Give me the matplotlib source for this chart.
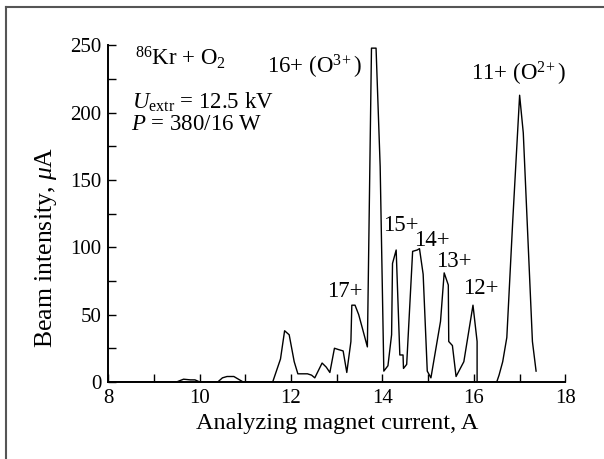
import matplotlib
matplotlib.use("Agg")
import matplotlib.pyplot as plt
from matplotlib.lines import Line2D
from matplotlib.ticker import MultipleLocator

plt.rcParams['font.family'] = ['Liberation Serif', 'DejaVu Serif']
plt.rcParams['mathtext.fontset'] = 'custom'
plt.rcParams['mathtext.rm'] = 'Liberation Serif'
plt.rcParams['mathtext.it'] = 'Liberation Serif:italic'

current = [8.0, 9.5, 9.65, 9.8, 9.9, 10.0, 10.4, 10.5, 10.6, 10.75, 10.85, 10.95,
           11.6, 11.77, 11.86, 11.96, 12.07, 12.15, 12.36, 12.45, 12.52,
           12.68, 12.77, 12.85, 12.95, 13.04, 13.14, 13.22, 13.31, 13.33,
           13.4, 13.48, 13.56, 13.67, 13.76, 13.86, 13.95, 14.03, 14.12,
           14.2, 14.22, 14.3, 14.38, 14.45, 14.46, 14.53, 14.66, 14.76,
           14.81, 14.89, 14.98, 15.06, 15.27, 15.35, 15.44, 15.45, 15.53,
           15.61, 15.78, 15.98, 16.07, 16.07, 16.5, 16.55, 16.63, 16.72,
           16.85, 17.0, 17.08, 17.28, 17.36]
intensity = [0, 0, 2, 1.5, 1.5, 0, 0, 3, 4, 4, 2, 0,
             0, 17, 38, 35, 15, 6, 6, 5, 3,
             14, 11, 7, 25, 24, 23, 7, 30, 57,
             57, 50, 40, 26, 248, 248, 160, 8, 12,
             35, 88, 98, 20, 20, 10, 13, 97, 98,
             99, 80, 8, 3, 45, 81, 72, 30, 27,
             4, 15, 57, 30, 0, 0, 5, 15, 33,
             120, 213, 185, 30, 8]

x_ticks = [8, 10, 12, 14, 16, 18]
y_ticks = [0, 50, 100, 150, 200, 250]

peak_labels = [
    (12.79, 63, "17+"),
    (14.02, 112, "15+"),
    (14.70, 101, "14+"),
    (15.18, 85, "13+"),
    (15.77, 65, "12+"),
    (11.48, 229, "16+ (O$^{3\\!+}$)"),
    (15.93, 224, "11+ (O$^{2\\!+}$)"),
]

fig = plt.figure(figsize=(6.04, 4.59), dpi=100)
ax = fig.add_axes([0.179, 0.168, 0.757, 0.733])

ax.plot(current, intensity, color='black', lw=1.0)

ax.set_xlim(8, 18)
ax.set_ylim(0, 250)
ax.set_xticks(x_ticks)
ax.set_yticks(y_ticks)
ax.xaxis.set_minor_locator(MultipleLocator(1))
ax.yaxis.set_minor_locator(MultipleLocator(25))
ax.tick_params(which='both', direction='in', length=6, width=1.0, labelsize=15, pad=5)
ax.spines['top'].set_visible(False)
ax.spines['right'].set_visible(False)
for s in ('left', 'bottom'):
    ax.spines[s].set_linewidth(1.4)

ax.set_xlabel("Analyzing magnet current, A", fontsize=17.5, labelpad=4)
ax.set_ylabel("Beam intensity, $\\mathit{\\mu}$A", fontsize=18.5)
ax.yaxis.set_label_coords(-0.108, 0.40)

for x, y, t in peak_labels:
    ax.text(x, y, t, fontsize=16.5, ha='left', va='baseline')

ax.text(8.59, 235, "$^{86}$Kr + O$_2$", fontsize=16.5, ha='left', va='baseline')
ax.text(8.53, 203, "$U_{\\mathrm{extr}}$ = 12.5 kV", fontsize=16.5, ha='left', va='baseline')
ax.text(8.50, 187, "$P$ = 380/16 W", fontsize=16.5, ha='left', va='baseline')

# figure frame (top and left edges visible)
W, H = 604, 459
fig.add_artist(Line2D([6 / W, 1.0], [1 - 7 / H, 1 - 7 / H], transform=fig.transFigure,
                      color='#555555', lw=1.5))
fig.add_artist(Line2D([6 / W, 6 / W], [0.0, 1 - 7 / H], transform=fig.transFigure,
                      color='#555555', lw=1.5))

fig.savefig("out.png", dpi=100)
